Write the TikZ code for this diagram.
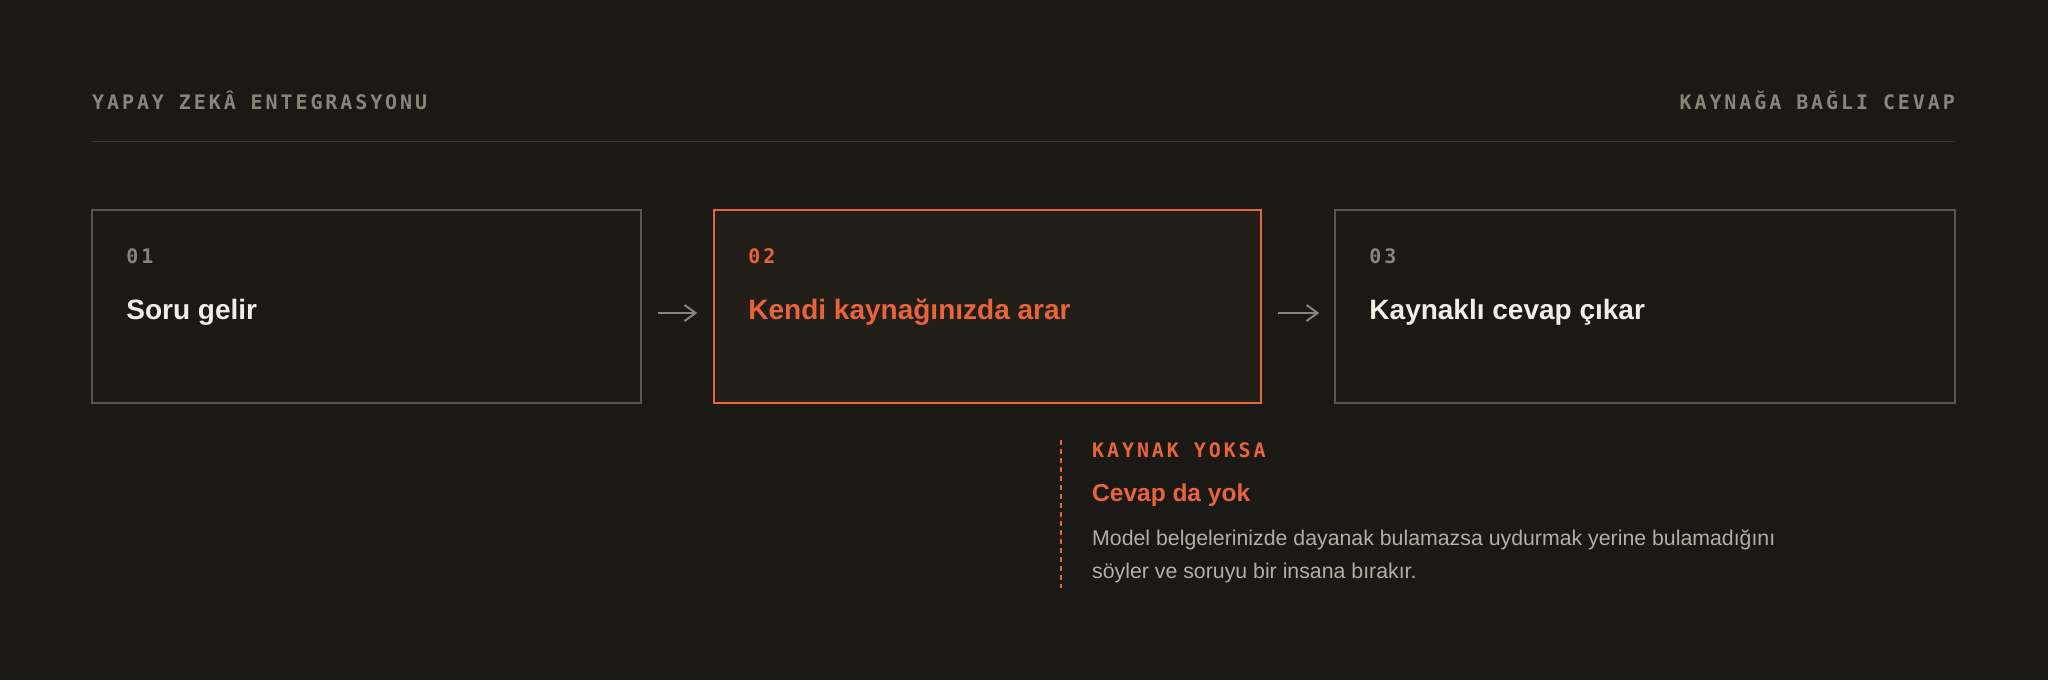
\documentclass[tikz,border=0pt]{standalone}
\usepackage{fontspec}
\setmainfont{Liberation Sans}
\newfontfamily\monofont[LetterSpace=14.5]{DejaVu Sans Mono}
\usetikzlibrary{arrows.meta, positioning}
\definecolor{bg}{HTML}{1A1915}
\definecolor{edgegray}{HTML}{5A554E}
\definecolor{rulegray}{HTML}{3A362F}
\definecolor{muted}{HTML}{8A847A}
\definecolor{accent}{HTML}{E8643A}
\definecolor{ink}{HTML}{F2EEE6}
\definecolor{body}{HTML}{B5AEA3}
\definecolor{hotfill}{HTML}{221E18}
\tikzset{stepbox/.style = {shape=rectangle, draw=edgegray, line width=1.5pt, minimum height=193pt, inner sep=0pt}}
\tikzset{tag/.style = {inner sep=0pt, text=muted, font=\monofont\bfseries\fontsize{20pt}{24pt}\selectfont}}
\tikzset{headline/.style = {inner sep=0pt, text=ink, font=\bfseries\fontsize{28pt}{32pt}\selectfont}}
\tikzset{bodytext/.style = {inner sep=0pt, text=body, font=\fontsize{21.3pt}{24pt}\selectfont}}
\tikzset{edge/.style = {-{Straight Barb[length=11pt,width=16pt]}, draw=muted, line width=2pt}}

\begin{document}
\begin{tikzpicture}[x=1pt, y=-1pt]
    \fill[bg] (0,0) rectangle (2048,680);
    \useasboundingbox (0,0) rectangle (2048,680);

    \node[tag, anchor=base west] (tl) at (92,109.3) {YAPAY ZEKÂ ENTEGRASYONU};
    \node[tag, anchor=base east] (tr) at (1955,109.3) {KAYNAĞA BAĞLI CEVAP};
    \coordinate (rl) at (92,141.7);
    \coordinate (rr) at (1955,141.7);
    \draw[rulegray, line width=1.5pt] (rl) -- (rr);

    \node[stepbox, minimum width=549pt] (a) at (366.5,306.5) {};
    \node[stepbox, minimum width=547pt, draw=accent, fill=hotfill] (b) at (987.5,306.5) {};
    \node[stepbox, minimum width=620pt] (c) at (1645,306.5) {};

    \node[tag, anchor=base west] (a1) at ([xshift=35pt, yshift=-54pt]a.north west) {01};
    \node[headline, anchor=base west] (a2) at ([xshift=35pt, yshift=-110pt]a.north west) {Soru gelir};
    \node[tag, text=accent, anchor=base west] (b1) at ([xshift=35pt, yshift=-54pt]b.north west) {02};
    \node[headline, text=accent, anchor=base west] (b2) at ([xshift=35pt, yshift=-110pt]b.north west) {Kendi kaynağınızda arar};
    \node[tag, anchor=base west] (c1) at ([xshift=35pt, yshift=-54pt]c.north west) {03};
    \node[headline, anchor=base west] (c2) at ([xshift=35pt, yshift=-110pt]c.north west) {Kaynaklı cevap çıkar};

    \draw[edge, shorten <=16pt, shorten >=16pt] ([yshift=-6.5pt]a.east) -- ([yshift=-6.5pt]b.west);
    \draw[edge, shorten <=16pt, shorten >=15pt] ([yshift=-6.5pt]b.east) -- ([yshift=-6.5pt]c.west);

    % kaynak yoksa
    \coordinate (d1) at (1061,440);
    \coordinate (d2) at (1061,588);
    \draw[accent, line width=1.5pt, dash pattern=on 5pt off 4pt] (d1) -- (d2);
    \node[tag, text=accent, anchor=base west] (k1) at (1092,457.3) {KAYNAK YOKSA};
    \node[headline, text=accent, font=\bfseries\fontsize{24.5pt}{28pt}\selectfont, anchor=base west] (k2) at (1092,501.7) {Cevap da yok};
    \node[bodytext, anchor=base west] (k3) at (1092,545) {Model belgelerinizde dayanak bulamazsa uydurmak yerine bulamadığını};
    \node[bodytext, anchor=base west] (k4) at ([yshift=-33pt]k3.base west) {söyler ve soruyu bir insana bırakır.};
\end{tikzpicture}
\end{document}
